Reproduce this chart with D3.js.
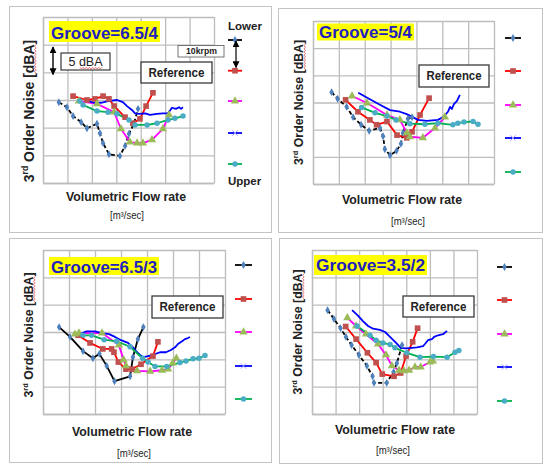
<!DOCTYPE html>
<html>
<head>
<meta charset="utf-8">
<script src="https://cdn.jsdelivr.net/npm/d3@7"></script>
<style>
  html, body { margin: 0; padding: 0; background: #fff; }
  svg { display: block; font-family: "Liberation Sans", Arial, sans-serif; }
</style>
</head>
<body>
<svg id="chart" width="548" height="464"></svg>
<script>
// ---------------- data ----------------
// x: volumetric flow rate (grid columns), y: 3rd order noise in dBA (relative, 5 dBA per grid row)
const titles = ["Groove=6.5/4", "Groove=5/4", "Groove=6.5/3", "Groove=3.5/2"];
const gridX = [0, 1, 2, 3, 4, 5, 6, 7];
const gridY = [0, 5, 10, 15, 20, 25, 30];

// Groove 6.5/4
const g654_s1 = [[0.65,14.6],[0.98,13.7],[1.23,12.1],[1.56,11.0],[1.80,9.9],[2.21,10.7],[2.33,9.0],[2.46,7.2],[2.70,5.2],[3.15,4.9],[3.36,6.7],[3.52,8.9],[3.72,10.7],[3.89,13.4]];
const g654_s2 = [[1.23,15.7],[1.80,15.0],[2.13,15.2],[2.46,15.7],[2.70,15.2],[2.91,13.9],[3.36,11.9],[3.68,10.8],[3.97,11.6],[4.22,13.9],[4.50,16.3]];
const g654_s3 = [[1.47,14.8],[2.21,14.3],[2.91,12.8],[3.19,9.8],[3.56,7.4],[3.85,7.2],[4.09,7.2],[4.46,7.8],[4.91,9.8],[5.16,12.3]];
const g654_s4 = [[1.84,14.8],[2.13,14.5],[2.37,14.5],[2.66,14.8],[3.03,15.0],[3.27,14.6],[3.44,13.9],[3.64,13.2],[3.77,12.6],[3.93,12.5],[4.18,12.6],[4.38,12.3],[4.67,12.5],[4.91,12.6],[5.12,12.6],[5.28,13.6],[5.44,13.4],[5.57,13.7],[5.65,13.4],[5.73,13.7]];
const g654_s5 = [[1.51,14.8],[1.64,14.1],[2.21,13.0],[2.66,12.8],[3.03,12.5],[3.52,11.4],[3.77,10.5],[4.26,10.5],[4.67,10.8],[5.12,11.4],[5.40,11.7],[5.73,12.1]];

// Groove 5/4
const g54_s1 = [[0.72,16.9],[0.95,15.7],[1.30,14.2],[1.55,12.3],[1.86,10.9],[2.17,9.8],[2.59,10.3],[2.71,8.8],[2.78,6.4],[2.98,5.3],[3.23,6.1],[3.40,7.4],[3.48,9.4],[3.67,12.0],[3.83,12.3]];
const g54_s2 = [[1.26,15.5],[1.74,13.3],[2.20,11.8],[2.46,10.9],[2.86,11.5],[3.25,9.0],[3.63,8.5],[3.83,9.6],[4.14,12.7],[4.49,15.8]];
const g54_s3 = [[1.51,16.2],[2.09,14.9],[2.86,12.7],[3.36,11.8],[3.63,9.4],[3.75,8.7],[4.25,8.5],[4.72,10.3],[5.10,12.3]];
const g54_s4 = [[1.75,16.8],[2.20,15.6],[2.66,14.4],[2.98,13.6],[3.36,13.3],[3.60,12.9],[3.82,12.4],[4.06,11.8],[4.40,11.6],[4.83,11.8],[5.03,12.3],[5.22,13.3],[5.30,14.2],[5.37,13.8],[5.45,14.7],[5.57,15.3],[5.68,16.4]];
const g54_s5 = [[1.88,14.1],[2.40,13.1],[2.86,12.5],[3.21,11.8],[3.75,11.1],[4.33,11.0],[4.83,11.2],[5.41,10.9],[5.60,11.2],[5.84,11.4],[6.19,11.5],[6.38,11.0]];

// Groove 6.5/3
const g653_s1 = [[0.62,15.9],[1.04,14.1],[1.54,11.5],[1.92,10.2],[2.17,11.0],[2.45,8.8],[2.75,6.0],[3.35,6.9],[3.46,10.4],[3.65,13.7],[3.86,15.9]];
const g653_s2 = [[1.35,14.4],[1.81,13.0],[2.30,11.9],[2.64,11.9],[2.73,11.3],[2.90,9.5],[3.19,8.2],[3.42,8.2],[3.77,9.1],[4.23,10.6],[4.42,13.2]];
const g653_s3 = [[1.23,14.6],[1.38,14.8],[2.27,14.8],[2.92,12.6],[3.10,9.9],[3.19,8.8],[3.62,7.9],[4.12,7.8],[4.58,8.0],[4.81,8.2],[4.99,9.3],[5.13,10.2]];
const g653_s4 = [[1.42,14.6],[1.65,15.1],[2.00,15.1],[2.27,14.8],[2.54,14.6],[2.77,14.1],[3.00,13.5],[3.27,13.0],[3.46,12.2],[3.62,11.3],[3.73,10.8],[3.87,10.4],[4.04,10.6],[4.23,10.8],[4.50,11.3],[4.73,11.3],[4.92,11.7],[5.08,12.2],[5.19,12.8],[5.35,13.3],[5.46,13.7],[5.58,13.9],[5.65,14.1]];
const g653_s5 = [[1.54,14.4],[1.87,14.4],[2.35,13.6],[2.83,13.3],[3.35,12.3],[3.83,10.2],[4.04,9.5],[4.31,8.7],[4.76,8.7],[5.27,9.4],[5.50,9.7],[5.77,10.1],[6.00,10.2],[6.23,10.7]];

// Groove 3.5/2
const g352_s1 = [[0.66,19.0],[0.93,17.4],[1.21,15.7],[1.44,14.1],[1.68,12.6],[1.99,10.8],[2.33,8.8],[2.57,6.9],[2.63,5.7],[3.17,5.7],[3.46,7.7],[3.60,9.3],[3.82,12.6]];
const g352_s2 = [[1.43,16.0],[1.87,13.7],[2.35,11.2],[2.72,9.4],[2.98,7.3],[3.48,6.9],[3.76,7.5],[3.99,10.6],[4.27,13.2],[4.48,15.7]];
const g352_s3 = [[1.50,17.6],[1.87,16.1],[2.29,14.6],[2.80,12.8],[3.14,10.8],[3.39,8.8],[3.69,8.0],[3.90,7.9],[4.12,8.0],[4.37,8.6],[4.61,8.6],[5.01,9.5],[5.13,9.7]];
const g352_s4 = [[1.70,19.0],[1.95,18.0],[2.16,17.0],[2.38,16.1],[2.59,15.6],[2.88,15.4],[3.10,15.0],[3.31,14.1],[3.59,12.9],[3.76,12.1],[3.99,12.0],[4.24,12.1],[4.45,12.2],[4.71,12.4],[4.79,12.8],[4.92,13.5],[5.09,13.7],[5.18,14.1],[5.35,14.4],[5.56,14.6],[5.73,15.2]];
const g352_s5 = [[1.91,16.1],[2.46,14.4],[2.72,13.5],[3.01,13.0],[3.31,12.7],[3.52,12.1],[4.02,11.2],[4.58,10.4],[5.15,10.5],[5.73,10.4],[6.07,11.3],[6.23,11.6]];

// ---------------- styles ----------------
const seriesStyle = [
  { line: "#000000", dash: "4,2.5", symbol: d3.symbolDiamond, size: 18, fill: "#4f81bd", plotMarks: true },
  { line: "#ff0000", dash: null,    symbol: d3.symbolSquare,  size: 32, fill: "#c0504d", plotMarks: true },
  { line: "#ff00ff", dash: null,    symbol: d3.symbolTriangle,size: 30, fill: "#9bbb59", plotMarks: true },
  { line: "#0000ff", dash: null,    symbol: d3.symbolTimes || d3.symbolCross, size: 20, fill: "none", stroke: "#9a9aff", plotMarks: false },
  { line: "#00b050", dash: null,    symbol: d3.symbolCircle,  size: 24, fill: "#4bacc6", plotMarks: true }
];

const panels = [
  { title: titles[0], series: [g654_s1, g654_s2, g654_s3, g654_s4, g654_s5], blackDash: true,
    frame: [9, 6, 271, 232], plot: { l: 43, r: 214, t: 17, b: 183 },
    tbox: [49, 21, 111, 21], tbase: 38.5,
    ref: [141, 62, 71, 21],
    ylab: { x: 33.5, cy: 111, size: 14 }, xlab: { cx: 126, y: 200.5 }, unit: { cx: 127, y: 219 },
    legend: { x0: 228, x1: 242, ys: [40, 70.7, 101, 133, 164] } },
  { title: titles[1], series: [g54_s1, g54_s2, g54_s3, g54_s4, g54_s5], blackDash: true,
    frame: [278, 8, 542, 232], plot: { l: 313, r: 494, t: 21, b: 184 },
    tbox: [317, 23.5, 97, 17], tbase: 37.8,
    ref: [419, 65, 70, 22],
    ylab: { x: 303, cy: 102.5, size: 12.3 }, xlab: { cx: 402, y: 204 }, unit: { cx: 408, y: 225 },
    legend: { x0: 505, x1: 521, ys: [38, 71, 105, 138, 172] } },
  { title: titles[2], series: [g653_s1, g653_s2, g653_s3, g653_s4, g653_s5], blackDash: false,
    frame: [9, 238, 271, 462], plot: { l: 43, r: 225, t: 250, b: 414 },
    tbox: [49, 257, 110, 18], tbase: 272.5,
    ref: [152, 296, 71, 22],
    ylab: { x: 32.5, cy: 335, size: 12.3 }, xlab: { cx: 132, y: 436 }, unit: { cx: 134, y: 457 },
    legend: { x0: 235, x1: 252, ys: [265, 299, 332, 366, 399] } },
  { title: titles[3], series: [g352_s1, g352_s2, g352_s3, g352_s4, g352_s5], blackDash: true,
    frame: [279, 238, 542, 463], plot: { l: 312, r: 477, t: 250, b: 414 },
    tbox: [314, 255, 113, 20], tbase: 271,
    ref: [403, 296, 71, 21],
    ylab: { x: 301.5, cy: 332, size: 12.3 }, xlab: { cx: 395, y: 434 }, unit: { cx: 393, y: 453.5 },
    legend: { x0: 497, x1: 512, ys: [267, 300, 334, 367, 401] } }
];

// ---------------- drawing ----------------
const svg = d3.select("#chart");
const defs = svg.append("defs");
defs.append("marker")
  .attr("id", "arrowHead")
  .attr("viewBox", "0 0 10 10")
  .attr("refX", 9).attr("refY", 5)
  .attr("markerUnits", "userSpaceOnUse")
  .attr("markerWidth", 7).attr("markerHeight", 7)
  .attr("orient", "auto-start-reverse")
  .append("path").attr("d", "M0,0L10,5L0,10Z").attr("fill", "#000");

svg.append("rect").attr("width", 548).attr("height", 464).attr("fill", "#fff");

// small wavy spell-check style underline
function squiggle(g, x0, y0, x1, y1) {
  const n = Math.max(2, Math.round(Math.hypot(x1 - x0, y1 - y0) / 1.6));
  const dx = (x1 - x0) / n, dy = (y1 - y0) / n;
  const len = Math.hypot(dx, dy);
  const nx = -dy / len, ny = dx / len;
  const pts = d3.range(n + 1).map(i => {
    const s = (i % 2 ? 0.9 : -0.9);
    return [x0 + dx * i + nx * s, y0 + dy * i + ny * s];
  });
  g.append("path").attr("d", d3.line()(pts))
    .attr("fill", "none").attr("stroke", "#e25b5b").attr("stroke-width", 0.8);
}

panels.forEach((p, pi) => {
  const g = svg.append("g").attr("class", "panel");
  const [fx0, fy0, fx1, fy1] = p.frame;
  g.append("rect").attr("x", fx0 + 0.5).attr("y", fy0 + 0.5)
    .attr("width", fx1 - fx0).attr("height", fy1 - fy0)
    .attr("fill", "#fff").attr("stroke", "#c4c4c4").attr("stroke-width", 1);

  const x = d3.scaleLinear().domain([0, 7]).range([p.plot.l, p.plot.r]);
  const y = d3.scaleLinear().domain([0, 30]).range([p.plot.b, p.plot.t]);

  // grid
  const gridColor = "#bdbdbd";
  const gx = g.append("g").attr("transform", `translate(0,${p.plot.b})`)
    .call(d3.axisBottom(x).tickValues(gridX).tickSize(-(p.plot.b - p.plot.t)).tickSizeOuter(0).tickFormat(""));
  const gy = g.append("g").attr("transform", `translate(${p.plot.l},0)`)
    .call(d3.axisLeft(y).tickValues(gridY).tickSize(-(p.plot.r - p.plot.l)).tickSizeOuter(0).tickFormat(""));
  [gx, gy].forEach(a => {
    a.selectAll("line").attr("stroke", gridColor).attr("stroke-width", 1.3);
    a.select(".domain").attr("stroke", gridColor).attr("stroke-width", 1.3);
  });

  // series
  const line = d3.line().x(d => x(d[0])).y(d => y(d[1]));
  p.series.forEach((data, si) => {
    const st = seriesStyle[si];
    g.append("path").datum(data)
      .attr("d", line)
      .attr("fill", "none")
      .attr("stroke", st.line)
      .attr("stroke-width", 1.8)
      .attr("stroke-linejoin", "round")
      .attr("stroke-dasharray", si === 0 && p.blackDash ? st.dash : null);
  });
  p.series.forEach((data, si) => {
    const st = seriesStyle[si];
    if (!st.plotMarks) return;
    g.selectAll(null).data(data).enter().append("path")
      .attr("transform", d => `translate(${x(d[0])},${y(d[1])})`)
      .attr("d", d3.symbol().type(st.symbol).size(st.size))
      .attr("fill", st.fill);
  });

  // title
  const [tx, ty, tw, th] = p.tbox;
  g.append("rect").attr("x", tx).attr("y", ty).attr("width", tw).attr("height", th).attr("fill", "#ffff00");
  g.append("text").attr("x", tx + tw / 2).attr("y", p.tbase)
    .attr("text-anchor", "middle")
    .attr("font-size", 17).attr("font-weight", "bold").attr("fill", "#2020c0")
    .attr("textLength", tw - 4).attr("lengthAdjust", "spacingAndGlyphs")
    .text(p.title);

  // reference box
  const [rx, ry, rw, rh] = p.ref;
  g.append("rect").attr("x", rx).attr("y", ry).attr("width", rw).attr("height", rh)
    .attr("fill", "#fff").attr("stroke", "#3a3a3a").attr("stroke-width", 1.3);
  g.append("text").attr("x", rx + rw / 2).attr("y", ry + rh / 2 + 4.3)
    .attr("text-anchor", "middle").attr("font-size", 12).attr("font-weight", "bold").attr("fill", "#222")
    .attr("textLength", rw - 15).attr("lengthAdjust", "spacingAndGlyphs")
    .text("Reference");

  // y axis title
  const yl = g.append("text")
    .attr("transform", `translate(${p.ylab.x},${p.ylab.cy}) rotate(-90)`)
    .attr("text-anchor", "middle")
    .attr("font-size", p.ylab.size).attr("font-weight", "bold").attr("fill", "#222");
  yl.append("tspan").text("3");
  yl.append("tspan").attr("font-size", p.ylab.size * 0.62).attr("dy", -p.ylab.size * 0.38).text("rd");
  yl.append("tspan").attr("dy", p.ylab.size * 0.38).text(" Order Noise [dBA]");
  const labLen = yl.node().getComputedTextLength();
  const topY = p.ylab.cy - labLen / 2;
  squiggle(g, p.ylab.x + 1.8, topY + labLen * 0.035, p.ylab.x + 1.8, topY + labLen * 0.235);

  // x axis title
  g.append("text").attr("x", p.xlab.cx).attr("y", p.xlab.y)
    .attr("text-anchor", "middle").attr("font-size", 12.3).attr("font-weight", "bold").attr("fill", "#222")
    .text("Volumetric Flow rate");
  g.append("text").attr("x", p.unit.cx).attr("y", p.unit.y)
    .attr("text-anchor", "middle").attr("font-size", 10).attr("fill", "#222")
    .attr("textLength", 34).attr("lengthAdjust", "spacingAndGlyphs")
    .text("[m³/sec]");

  // legend (no labels, only line + marker)
  const lg = g.append("g");
  seriesStyle.forEach((st, si) => {
    const ly = p.legend.ys[si];
    lg.append("line").attr("x1", p.legend.x0).attr("x2", p.legend.x1)
      .attr("y1", ly).attr("y2", ly)
      .attr("stroke", st.line).attr("stroke-width", 1.8);
    lg.append("path")
      .attr("transform", `translate(${(p.legend.x0 + p.legend.x1) / 2},${ly})`)
      .attr("d", d3.symbol().type(st.symbol).size(st.size))
      .attr("fill", st.fill)
      .attr("stroke", st.stroke || null).attr("stroke-width", st.stroke ? 1 : null);
  });

  // annotations only on the first panel
  if (pi === 0) {
    // 5 dBA scale bar
    g.append("line").attr("x1", 53).attr("x2", 53).attr("y1", 47).attr("y2", 74.5)
      .attr("stroke", "#000").attr("stroke-width", 1.4)
      .attr("marker-start", "url(#arrowHead)").attr("marker-end", "url(#arrowHead)");
    g.append("rect").attr("x", 61).attr("y", 53).attr("width", 49).attr("height", 17)
      .attr("fill", "#fff").attr("stroke", "#3a3a3a").attr("stroke-width", 1.2);
    g.append("text").attr("x", 85.5).attr("y", 66).attr("text-anchor", "middle")
      .attr("font-size", 12.5).attr("fill", "#222").text("5 dBA");
    squiggle(g, 80, 68.2, 102, 68.2);

    // 10krpm step between legend entries
    g.append("rect").attr("x", 178).attr("y", 45.5).attr("width", 46).attr("height", 11.5)
      .attr("fill", "#fff").attr("stroke", "#555").attr("stroke-width", 0.8);
    g.append("text").attr("x", 201.5).attr("y", 54.3).attr("text-anchor", "middle")
      .attr("font-size", 8.7).attr("font-weight", "bold").attr("fill", "#222").text("10krpm");
    g.append("line").attr("x1", 236).attr("x2", 236).attr("y1", 41).attr("y2", 67.5)
      .attr("stroke", "#000").attr("stroke-width", 1.2)
      .attr("marker-start", "url(#arrowHead)").attr("marker-end", "url(#arrowHead)");

    g.append("text").attr("x", 245).attr("y", 29.5).attr("text-anchor", "middle")
      .attr("font-size", 11.5).attr("font-weight", "bold").attr("fill", "#222").text("Lower");
    g.append("text").attr("x", 244.5).attr("y", 185).attr("text-anchor", "middle")
      .attr("font-size", 11.5).attr("font-weight", "bold").attr("fill", "#222").text("Upper");
  }
});
</script>
</body>
</html>
